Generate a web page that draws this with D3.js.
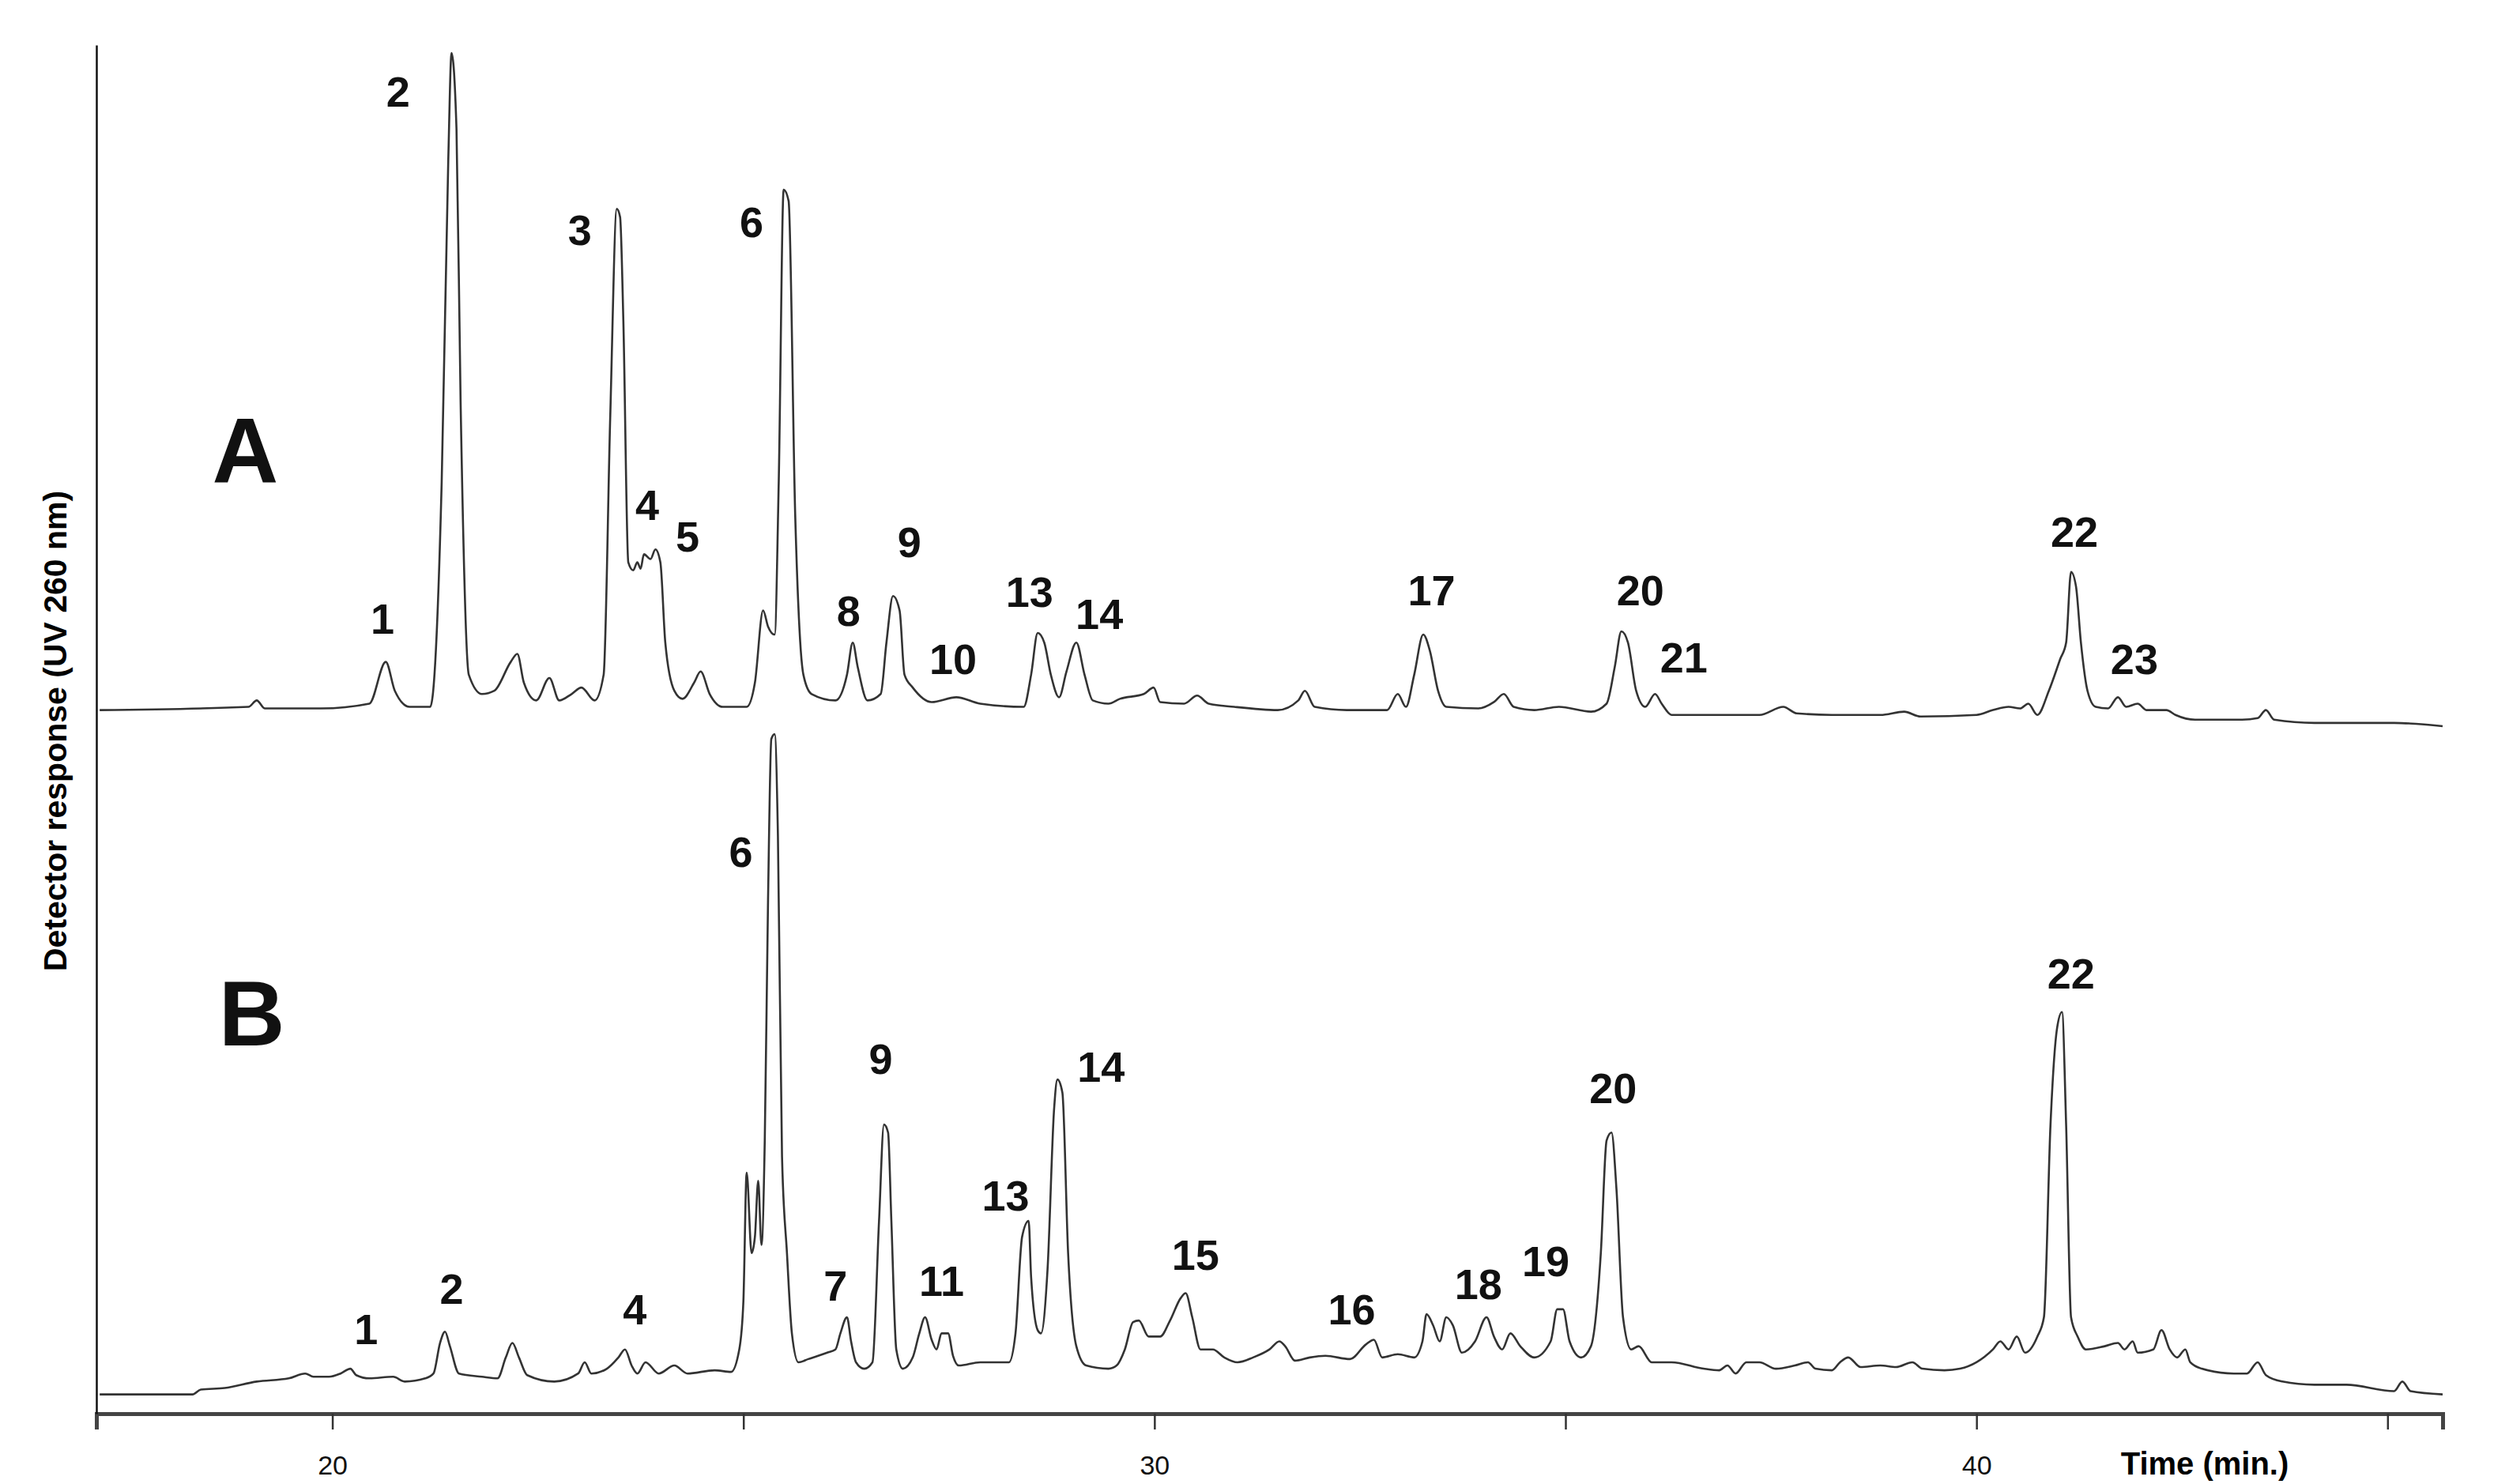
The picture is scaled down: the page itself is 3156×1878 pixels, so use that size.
<!DOCTYPE html>
<html><head><meta charset="utf-8">
<script src="https://cdn.jsdelivr.net/npm/d3@7"></script>
<style>html,body{margin:0;padding:0;background:#fff;}</style>
</head><body>
<svg id="c" width="3156" height="1878"></svg>
<script>
const traceA = [[17.17,438],[18.98,440],[19.08,444],[19.18,439],[19.86,439],[20.45,442],[20.65,468],[20.76,450],[20.94,440],[21.19,440],[21.33,580],[21.41,780],[21.45,847],[21.51,800],[21.56,630],[21.66,460],[21.82,448],[21.97,450],[22.17,468],[22.25,473],[22.33,455],[22.48,444],[22.64,458],[22.76,444],[22.91,448],[23.03,452],[23.19,444],[23.30,460],[23.38,620],[23.46,750],[23.50,745],[23.54,680],[23.60,530],[23.66,525],[23.71,530],[23.75,526],[23.79,535],[23.87,532],[23.93,538],[23.99,530],[24.05,480],[24.16,450],[24.26,445],[24.40,455],[24.48,462],[24.59,448],[24.75,440],[25.04,440],[25.14,455],[25.24,500],[25.30,490],[25.38,485],[25.43,580],[25.49,762],[25.55,755],[25.63,560],[25.73,460],[25.83,448],[26.12,444],[26.26,460],[26.33,480],[26.39,465],[26.51,444],[26.67,448],[26.74,480],[26.82,509],[26.90,500],[26.96,460],[27.06,452],[27.29,443],[27.59,446],[27.88,442],[28.41,440],[28.50,460],[28.58,486],[28.66,480],[28.74,460],[28.84,446],[28.93,462],[29.05,480],[29.15,460],[29.25,444],[29.44,442],[29.58,445],[29.87,448],[29.99,452],[30.07,443],[30.36,442],[30.52,447],[30.66,442],[30.97,440],[31.50,438],[31.75,444],[31.83,450],[31.95,440],[32.34,438],[32.83,438],[32.96,448],[33.06,440],[33.16,460],[33.27,485],[33.35,475],[33.45,450],[33.55,440],[33.94,439],[34.13,443],[34.25,448],[34.37,440],[34.62,438],[34.92,440],[35.31,437],[35.50,442],[35.60,465],[35.68,487],[35.76,480],[35.86,450],[35.97,440],[36.09,448],[36.17,442],[36.29,435],[36.97,435],[37.36,435],[37.65,440],[37.81,436],[38.24,435],[38.83,435],[39.12,437],[39.32,434],[40.00,435],[40.20,438],[40.39,440],[40.53,439],[40.63,442],[40.74,435],[40.88,450],[41.02,470],[41.09,480],[41.15,524],[41.21,515],[41.27,480],[41.35,450],[41.45,440],[41.60,439],[41.72,446],[41.82,440],[41.96,442],[42.07,438],[42.31,438],[42.42,435],[42.66,432],[43.23,432],[43.42,433],[43.52,438],[43.62,432],[44.11,430],[45.08,430],[45.67,428]];

const traceB = [[17.17,12],[18.30,12],[18.40,15],[18.69,16],[19.08,20],[19.47,22],[19.67,25],[19.77,23],[19.96,23],[20.10,25],[20.22,28],[20.29,24],[20.45,22],[20.74,23],[20.88,20],[21.13,22],[21.23,25],[21.31,44],[21.37,51],[21.43,42],[21.54,25],[21.82,23],[22.01,22],[22.11,35],[22.19,44],[22.27,35],[22.37,24],[22.70,20],[22.99,25],[23.07,32],[23.15,25],[23.34,28],[23.48,35],[23.56,40],[23.64,30],[23.71,25],[23.81,32],[23.97,25],[24.16,30],[24.32,25],[24.65,27],[24.85,26],[24.95,40],[25.00,70],[25.04,150],[25.10,100],[25.14,110],[25.18,145],[25.22,105],[25.26,170],[25.30,320],[25.34,420],[25.38,423],[25.42,360],[25.47,160],[25.53,100],[25.59,50],[25.67,32],[25.79,34],[26.02,38],[26.12,40],[26.18,50],[26.26,60],[26.31,45],[26.37,32],[26.47,28],[26.57,32],[26.65,120],[26.71,180],[26.76,175],[26.80,120],[26.86,40],[26.94,28],[27.06,35],[27.14,50],[27.21,60],[27.29,46],[27.35,40],[27.41,50],[27.49,50],[27.55,36],[27.62,30],[27.88,32],[28.23,32],[28.31,50],[28.39,110],[28.47,120],[28.50,85],[28.58,52],[28.62,50],[28.70,90],[28.78,190],[28.82,208],[28.88,200],[28.95,100],[29.05,42],[29.17,30],[29.44,28],[29.54,30],[29.64,40],[29.74,57],[29.81,58],[29.93,48],[30.07,48],[30.19,58],[30.32,72],[30.38,75],[30.46,60],[30.56,40],[30.71,40],[30.85,35],[31.01,32],[31.20,35],[31.40,40],[31.52,45],[31.59,42],[31.71,33],[31.89,35],[32.08,36],[32.38,34],[32.57,43],[32.67,46],[32.77,35],[32.96,37],[33.16,35],[33.26,45],[33.31,62],[33.39,55],[33.47,45],[33.55,60],[33.63,55],[33.74,38],[33.90,45],[34.04,60],[34.13,48],[34.23,40],[34.33,50],[34.45,42],[34.62,35],[34.82,45],[34.90,65],[34.97,65],[35.05,45],[35.19,35],[35.31,42],[35.43,100],[35.50,170],[35.56,175],[35.62,140],[35.70,60],[35.80,40],[35.89,42],[36.05,32],[36.29,32],[36.68,28],[36.87,27],[36.97,30],[37.07,25],[37.20,32],[37.36,32],[37.56,28],[37.79,30],[37.95,32],[38.04,28],[38.24,27],[38.34,32],[38.44,35],[38.59,29],[38.83,30],[39.02,29],[39.22,32],[39.34,28],[39.61,27],[39.80,28],[40.00,32],[40.20,40],[40.29,45],[40.39,40],[40.49,48],[40.59,38],[40.74,48],[40.82,60],[40.90,180],[40.98,240],[41.04,250],[41.09,180],[41.15,60],[41.23,48],[41.33,40],[41.56,42],[41.72,44],[41.80,40],[41.90,45],[41.96,38],[42.15,40],[42.25,52],[42.35,40],[42.44,35],[42.54,40],[42.60,32],[42.74,28],[43.13,25],[43.29,25],[43.42,32],[43.52,24],[43.72,20],[44.11,18],[44.50,18],[45.08,14],[45.18,20],[45.28,14],[45.67,12]];

const peakLabelsA = [["2",20.80,823],["3",23.01,737],["6",25.10,742],["1",20.61,495],["4",23.83,566],["5",24.32,546],["8",26.28,500],["9",27.02,543],["10",27.55,470],["13",28.48,512],["14",29.33,498],["17",33.37,513],["20",35.91,513],["21",36.44,471],["22",41.19,549],["23",41.92,470]];
const peakLabelsB = [["6",24.97,350],["9",26.67,221],["14",29.35,216],["13",28.19,136],["7",26.12,80],["11",27.41,83],["15",30.50,99],["1",20.41,53],["2",21.45,78],["4",23.68,65],["16",32.40,65],["18",33.94,81],["19",34.76,95],["20",35.58,203],["22",41.15,274]];
const panelLabels = [["A",18.94,600],["B",19.02,250]];
const majorTicks = [20,30,40];
const minorTicks = [25,35,45];

const svg = d3.select("#c");
const x = d3.scaleLinear().domain([17.13,45.67]).range([122,3091]);
const y = d3.scaleLinear().domain([0,852]).range([1789,57]);
const font = "'Liberation Sans', Arial, sans-serif";

const line = d3.line().x(d=>x(d[0])).y(d=>y(d[1])).curve(d3.curveMonotoneX);
[traceA, traceB].forEach(t=>{
  svg.append("path").datum(t).attr("d",line).attr("fill","none")
    .attr("stroke","#333").attr("stroke-width",2.6).attr("stroke-linejoin","round");
});

const xa = svg.append("g").attr("transform","translate(0,1789)")
  .call(d3.axisBottom(x).tickValues(majorTicks.concat(minorTicks).sort((a,b)=>a-b))
    .tickSize(20).tickFormat(d=>majorTicks.includes(d)?d:""));
xa.select(".domain").attr("stroke","#444").attr("stroke-width",5);
xa.selectAll(".tick line").attr("stroke","#333").attr("stroke-width",2.5);
xa.selectAll(".tick text").attr("font-family",font).attr("font-size",34).attr("dy","1.6em").attr("fill","#111");

const ya = svg.append("g").attr("transform","translate(122,0)")
  .call(d3.axisLeft(y).tickValues([]).tickSizeOuter(0));
ya.select(".domain").attr("stroke","#111").attr("stroke-width",2.5);

svg.append("text").attr("x",2790).attr("y",1866).attr("font-family",font)
  .attr("font-weight","bold").attr("font-size",40).attr("text-anchor","middle")
  .text("Time  (min.)");
svg.append("text").attr("transform","translate(84,925) rotate(-90)")
  .attr("font-family",font).attr("font-weight","bold").attr("font-size",41)
  .attr("text-anchor","middle").text("Detector response (UV 260 nm)");

function addLabels(arr,size){
  svg.append("g").selectAll("text").data(arr).join("text")
    .attr("x",d=>x(d[1])).attr("y",d=>y(d[2])).attr("dy","0.36em")
    .attr("text-anchor","middle").attr("font-family",font).attr("font-weight","bold")
    .attr("font-size",size).attr("fill","#111").text(d=>d[0]);
}
addLabels(peakLabelsA,54);
addLabels(peakLabelsB,54);
addLabels(panelLabels,116);
</script>
</body></html>
